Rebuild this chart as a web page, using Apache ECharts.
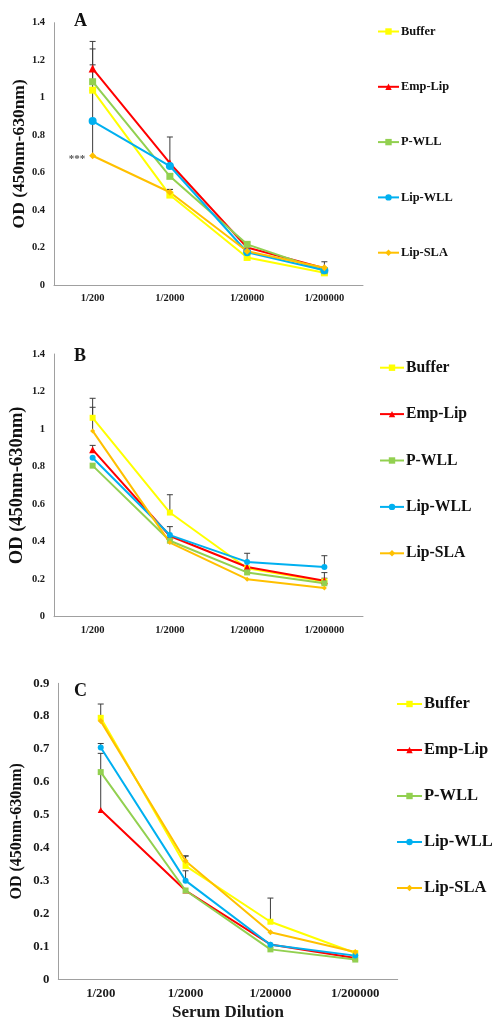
<!DOCTYPE html>
<html>
<head>
<meta charset="utf-8">
<script src="https://cdn.jsdelivr.net/npm/echarts@6/dist/echarts.min.js"></script>
<style>
  html, body { margin: 0; padding: 0; background: #fff; }
  #chart { width: 494px; height: 1021px; }
</style>
</head>
<body>
<div id="chart"></div>
<script>
// Serum dilutions on the x axis and the five immunisation groups
const categories = ['1/200', '1/2000', '1/20000', '1/200000'];
const groups = ['Buffer', 'Emp-Lip', 'P-WLL', 'Lip-WLL', 'Lip-SLA'];

// Panel A – mean OD (450nm-630nm)
const bufferA = [1.04, 0.48, 0.147, 0.065];
const empLipA = [1.155, 0.65, 0.20, 0.09];
const pwllA   = [1.085, 0.58, 0.217, 0.076];
const lipWllA = [0.875, 0.635, 0.175, 0.079];
const lipSlaA = [0.69, 0.495, 0.18, 0.092];
// Panel A – upper error (SD)
const bufferErrA = [0.135, 0.03, 0, 0];
const empLipErrA = [0.145, 0, 0, 0];
const pwllErrA   = [0.175, 0, 0.01, 0];
const lipWllErrA = [0.165, 0.155, 0, 0];
const lipSlaErrA = [0.185, 0.015, 0, 0.032];

// Panel B – mean OD
const bufferB = [1.06, 0.555, 0.258, 0.188];
const empLipB = [0.89, 0.43, 0.265, 0.192];
const pwllB   = [0.805, 0.405, 0.236, 0.178];
const lipWllB = [0.847, 0.435, 0.292, 0.265];
const lipSlaB = [0.99, 0.395, 0.20, 0.153];
// Panel B – upper error (SD)
const bufferErrB = [0.104, 0.095, 0, 0];
const empLipErrB = [0.023, 0, 0, 0.043];
const pwllErrB   = [0, 0, 0, 0.027];
const lipWllErrB = [0, 0.045, 0.046, 0.06];
const lipSlaErrB = [0.126, 0, 0, 0];

// Panel C – mean OD
const bufferC = [0.795, 0.345, 0.175, 0.08];
const empLipC = [0.515, 0.27, 0.106, 0.065];
const pwllC   = [0.63, 0.27, 0.091, 0.06];
const lipWllC = [0.705, 0.30, 0.105, 0.072];
const lipSlaC = [0.785, 0.36, 0.143, 0.083];
// Panel C – upper error (SD)
const bufferErrC = [0.042, 0.03, 0.072, 0];
const empLipErrC = [0.172, 0, 0, 0];
const pwllErrC   = [0, 0, 0, 0];
const lipWllErrC = [0.012, 0.03, 0, 0];
const lipSlaErrC = [0, 0.015, 0, 0];

// Y-axis tick settings per panel
const yMaxAB = 1.4, yStepAB = 0.2;
const yMaxC = 0.9, yStepC = 0.1;

const colors = ['#FFFF00', '#FF0000', '#92D050', '#00B0F0', '#FFC000'];
const symbols = ['rect', 'triangle', 'rect', 'circle', 'diamond'];
const serif = '"Liberation Serif", "Times New Roman", serif';

const panels = [
  { means: [bufferA, empLipA, pwllA, lipWllA, lipSlaA],
    errs: [bufferErrA, empLipErrA, pwllErrA, lipWllErrA, lipSlaErrA],
    grid: { left: 54, top: 22.7, width: 309, height: 262.3 },
    max: yMaxAB, step: yStepAB, tick: 10.5, symSize: [7, 8, 7, 8, 7],
    letter: 'A', letterPos: [74, 12], titleSize: 17.5, titleGap: 26,
    legend: { left: 377, top: 24.5, itemWidth: 21, gap: 41.3, font: 12.4, lh: 14 } },
  { means: [bufferB, empLipB, pwllB, lipWllB, lipSlaB],
    errs: [bufferErrB, empLipErrB, pwllErrB, lipWllErrB, lipSlaErrB],
    grid: { left: 54, top: 354, width: 309, height: 262.7 },
    max: yMaxAB, step: yStepAB, tick: 10.5, symSize: [6, 7, 6, 6, 5],
    letter: 'B', letterPos: [74, 347], titleSize: 18.5, titleGap: 27,
    legend: { left: 379, top: 358.7, itemWidth: 24, gap: 28.4, font: 15.7, lh: 18 } },
  { means: [bufferC, empLipC, pwllC, lipWllC, lipSlaC],
    errs: [bufferErrC, empLipErrC, pwllErrC, lipWllErrC, lipSlaErrC],
    grid: { left: 58.3, top: 683.3, width: 339.4, height: 296 },
    max: yMaxC, step: yStepC, tick: 12.8, symSize: [6, 6, 6, 6, 6],
    letter: 'C', letterPos: [74, 682], titleSize: 16, titleGap: 33,
    legend: { left: 396, top: 695, itemWidth: 25, gap: 28, font: 16.5, lh: 18 } }
];

const axisLine = { show: true, lineStyle: { color: '#A0A0A0', width: 1 } };

const option = {
  animation: false,
  backgroundColor: '#fff',
  grid: panels.map(p => Object.assign({ containLabel: false, outerBoundsMode: 'none' }, p.grid)),
  xAxis: panels.map((p, i) => ({
    type: 'category', gridIndex: i, data: categories, boundaryGap: true,
    axisLine: axisLine, axisTick: { show: false },
    axisLabel: { fontFamily: serif, fontWeight: 'bold', fontSize: p.tick, color: '#1a1a1a', margin: 8, interval: 0 },
    name: i === 2 ? 'Serum Dilution' : '', nameLocation: 'middle', nameGap: 25, nameMoveOverlap: false,
    nameTextStyle: { fontFamily: serif, fontWeight: 'bold', fontSize: 17, color: '#1a1a1a' }
  })),
  yAxis: panels.map((p, i) => ({
    type: 'value', gridIndex: i, min: 0, max: p.max, interval: p.step,
    axisLine: axisLine, axisTick: { show: false }, splitLine: { show: false },
    axisLabel: { fontFamily: serif, fontWeight: 'bold', fontSize: p.tick, color: '#1a1a1a', margin: 9 },
    name: 'OD (450nm-630nm)', nameLocation: 'middle', nameRotate: 90, nameGap: p.titleGap,
    nameMoveOverlap: false,
    nameTextStyle: { fontFamily: serif, fontWeight: 'bold', fontSize: p.titleSize, color: '#111' }
  })),
  legend: panels.map(p => ({
    orient: 'vertical', left: p.legend.left, top: p.legend.top,
    data: groups, itemWidth: p.legend.itemWidth, itemHeight: 8,
    itemGap: p.legend.gap, padding: 0,
    textStyle: { fontFamily: serif, fontWeight: 'bold', fontSize: p.legend.font, color: '#111', lineHeight: p.legend.lh, padding: [0, 0, 0, -3] }
  })),
  graphic: panels.map(p => ({
    type: 'text', left: p.letterPos[0], top: p.letterPos[1],
    style: { text: p.letter, font: 'bold 18px ' + serif, fill: '#111' }
  })),
  series: []
};

panels.forEach((p, pi) => {
  // Upper error bars drawn beneath the lines
  const errData = [];
  groups.forEach((g, gi) => {
    p.means[gi].forEach((v, ci) => {
      const e = p.errs[gi][ci];
      if (e > 0) errData.push([ci, v, +(v + e).toFixed(3)]);
    });
  });
  option.series.push({
    type: 'custom', xAxisIndex: pi, yAxisIndex: pi, z: 1, silent: true,
    encode: { x: 0, y: [1, 2] }, data: errData,
    renderItem: (params, api) => {
      const lo = api.coord([api.value(0), api.value(1)]);
      const hi = api.coord([api.value(0), api.value(2)]);
      const stroke = { stroke: '#3c3c3c', lineWidth: 1 };
      return { type: 'group', children: [
        { type: 'line', shape: { x1: lo[0], y1: lo[1], x2: hi[0], y2: hi[1] }, style: stroke },
        { type: 'line', shape: { x1: hi[0] - 3, y1: hi[1], x2: hi[0] + 3, y2: hi[1] }, style: stroke }
      ] };
    }
  });
  groups.forEach((g, gi) => {
    let data = p.means[gi].slice();
    if (pi === 0 && g === 'Lip-SLA') {
      // significance marker beside the first dilution
      data[0] = { value: data[0], label: { show: true, position: 'left', distance: 4, formatter: '***',
        fontFamily: serif, fontSize: 11, fontWeight: 'bold', color: '#555', offset: [0, 3] } };
    }
    option.series.push({
      name: g, type: 'line', xAxisIndex: pi, yAxisIndex: pi, z: 2,
      data: data, symbol: symbols[gi], symbolSize: p.symSize[gi], showAllSymbol: true,
      lineStyle: { color: colors[gi], width: 2 },
      itemStyle: { color: colors[gi] },
      emphasis: { disabled: true }
    });
  });
});

const chart = echarts.init(document.getElementById('chart'), null, { renderer: 'canvas' });
chart.setOption(option);
</script>
</body>
</html>
